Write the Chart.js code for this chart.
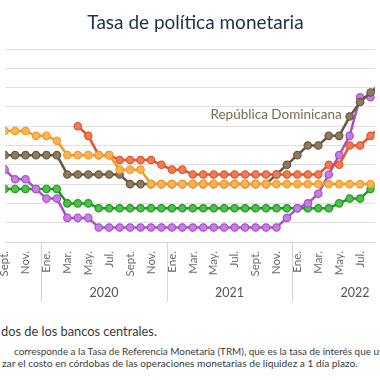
<!DOCTYPE html>
<html><head><meta charset="utf-8">
<script src="https://cdn.jsdelivr.net/npm/chart.js@4.4.0/dist/chart.umd.min.js"></script>
<style>
html,body{margin:0;padding:0;background:#fff;width:380px;height:380px;overflow:hidden;font-family:Lato,sans-serif;}
#wrap{position:relative;width:380px;height:380px;overflow:hidden;}
#cv{position:absolute;left:0;top:0;}
#title{position:absolute;left:0;top:10px;width:380px;box-sizing:border-box;padding-left:11px;text-align:center;font-size:19px;line-height:24px;color:#1f2f47;white-space:nowrap;}
.note{position:absolute;white-space:nowrap;color:#3b3b3b;}
</style></head><body>
<div id="wrap">
<canvas id="cv" width="380" height="310"></canvas>
<div id="title">Tasa de política monetaria</div>
<div class="note" style="left:1px;top:323px;font-size:12.8px;line-height:16px;">dos de los bancos centrales.</div>
<div class="note" style="left:14px;top:344px;font-size:9.9px;line-height:14px;">corresponde a la Tasa de Referencia Monetaria (TRM), que es la tasa de interés que utiliza</div>
<div class="note" style="left:2px;top:356px;font-size:10.2px;line-height:14px;">zar el costo en córdobas de las operaciones monetarias de liquidez a 1 día plazo.</div>
</div>
<script>
// Months (index 0 = Sept. 2019)
const months = ["2019-09","2019-10","2019-11","2019-12",
 "2020-01","2020-02","2020-03","2020-04","2020-05","2020-06","2020-07","2020-08","2020-09","2020-10","2020-11","2020-12",
 "2021-01","2021-02","2021-03","2021-04","2021-05","2021-06","2021-07","2021-08","2021-09","2021-10","2021-11","2021-12",
 "2022-01","2022-02","2022-03","2022-04","2022-05","2022-06","2022-07","2022-08","2022-09"];

const honduras   = [5.75,5.75,5.75,5.5, 5.5,5.25,4.5,4.5,4.5,4.5,4.5,3.75,3.75,3.75,3.0,3.0,
 3.0,3.0,3.0,3.0,3.0,3.0,3.0,3.0,3.0,3.0,3.0,3.0, 3.0,3.0,3.0,3.0,3.0,3.0,3.0,3.0,3.0];
const nicaragua  = [null,null,null,null, null,null,null,6.0,5.5,4.5,4.5,4.25,4.25,4.25,4.25,4.0,
 3.75,3.75,3.5,3.5,3.5,3.5,3.5,3.5,3.5,3.5,3.5,3.5, 3.5,3.5,3.5,4.0,4.0,5.0,5.0,5.5,6.0];
const dominicana = [4.5,4.5,4.5,4.5, 4.5,4.5,3.5,3.5,3.5,3.5,3.5,3.5,3.0,3.0,3.0,3.0,
 3.0,3.0,3.0,3.0,3.0,3.0,3.0,3.0,3.0,3.0,3.5,4.0, 4.5,5.0,5.0,5.5,5.5,6.5,7.25,7.75,8.25];
const costaRica  = [3.75,3.25,3.25,2.75, 2.25,2.25,1.25,1.25,1.25,0.75,0.75,0.75,0.75,0.75,0.75,0.75,
 0.75,0.75,0.75,0.75,0.75,0.75,0.75,0.75,0.75,0.75,0.75,1.25, 1.75,2.0,2.5,3.5,4.5,5.5,7.5,7.5,8.5];
const guatemala  = [2.75,2.75,2.75,2.75, 2.75,2.75,2.0,2.0,2.0,1.75,1.75,1.75,1.75,1.75,1.75,1.75,
 1.75,1.75,1.75,1.75,1.75,1.75,1.75,1.75,1.75,1.75,1.75,1.75, 1.75,1.75,1.75,1.75,2.0,2.25,2.25,2.75,3.25];

const tickMonths = ["2019-09","2019-11","2020-01","2020-03","2020-05","2020-07","2020-09","2020-11",
 "2021-01","2021-03","2021-05","2021-07","2021-09","2021-11","2022-01","2022-03","2022-05","2022-07"];
const tickLabels = ["Sept.","Nov.","Ene.","Mar.","May.","Jul.","Sept.","Nov.",
 "Ene.","Mar.","May.","Jul.","Sept.","Nov.","Ene.","Mar.","May.","Jul."];
const years = ["2020","2021","2022","2023"];
const yearStart = ["2020-01","2021-01","2022-01","2023-01"];
const yTicks = [0,1,2,3,4,5,6,7,8,9,10];
const seriesLabel = "República Dominicana";

const idx = m => months.indexOf(m) >= 0 ? months.indexOf(m) : (function(){
  const [y,mo] = m.split('-').map(Number); const [y0,m0] = months[0].split('-').map(Number);
  return (y-y0)*12 + (mo-m0);
})();
const pts = arr => arr.map((v,i)=>({x:i, y:v}));

function ds(label, data, line, fill, order){
  return {label, data:pts(data), borderColor:line, backgroundColor:fill,
    pointBackgroundColor:fill, pointBorderColor:line, pointBorderWidth:1.2, pointRadius:3.7,
    borderWidth:2.5, tension:0, spanGaps:false, order};
}

const extras = {
  id:'extras',
  afterDatasetsDraw(chart){
    const ctx = chart.ctx;
    const meta = chart.getDatasetMeta(2);
    const p = meta.data[idx("2022-06")];
    ctx.save();
    ctx.font = '13.5px Lato';
    ctx.fillStyle = '#7a6a52';
    ctx.textAlign = 'right';
    ctx.textBaseline = 'alphabetic';
    ctx.fillText(seriesLabel, p.x - 8, p.y + 2.5);
    ctx.restore();
  },
  afterDraw(chart){
    const ctx = chart.ctx, xs = chart.scales.x, bottom = chart.chartArea.bottom;
    ctx.save();
    ctx.strokeStyle = '#d6d6d6'; ctx.lineWidth = 1;
    yearStart.forEach((ys,i)=>{
      const px = Math.round(xs.getPixelForValue(idx(ys) - 0.5)) + 0.5;
      ctx.beginPath(); ctx.moveTo(px, bottom); ctx.lineTo(px, 302); ctx.stroke();
    });
    ctx.font = '12.5px Lato'; ctx.fillStyle = '#555'; ctx.textAlign='center'; ctx.textBaseline='middle';
    years.forEach((y,i)=>{
      const cx = xs.getPixelForValue(idx(yearStart[i]) + 5.5);
      ctx.fillText(y, cx, 293);
    });
    ctx.restore();
  }
};

Chart.defaults.font.family = 'Lato';
new Chart(document.getElementById('cv'), {
  type:'line',
  data:{datasets:[
    ds('Honduras', honduras, '#f39a22', '#f9b458', 0),
    ds('Nicaragua', nicaragua, '#e2542b', '#ef7b52', 1),
    ds('República Dominicana', dominicana, '#6a563a', '#8d7a60', 2),
    ds('Costa Rica', costaRica, '#a552c9', '#c77de4', 3),
    ds('Guatemala', guatemala, '#1e9a1e', '#4cc04c', 4)
  ]},
  options:{
    responsive:false, animation:false, devicePixelRatio:1,
    layout:{padding:{top:49,left:0,right:0,bottom:0}},
    plugins:{legend:{display:false}, tooltip:{enabled:false}, title:{display:false}},
    scales:{
      x:{type:'linear', min:0.056, max:35.405,
        grid:{display:false, drawTicks:false},
        border:{display:true, color:'#d4d4d4', width:1},
        afterBuildTicks(s){ s.ticks = tickMonths.map(m=>({value:idx(m)})); },
        afterFit(s){ s.height = 68; s.paddingLeft = 0; s.paddingRight = 0; },
        ticks:{autoSkip:false, maxRotation:90, minRotation:90, padding:9, color:'#6a6a6a',
          font:{size:11.5},
          callback(v){ const k = tickMonths.map(idx).indexOf(v); return k>=0 ? tickLabels[k] : ''; }}
      },
      y:{min:0, max:10,
        afterBuildTicks(s){ s.ticks = yTicks.map(v=>({value:v})); },
        afterFit(s){ s.width = 0; },
        ticks:{display:false},
        grid:{color:'#e0e0e0', drawTicks:false, lineWidth:1},
        border:{display:false}
      }
    }
  },
  plugins:[extras]
});
</script>
</body></html>
